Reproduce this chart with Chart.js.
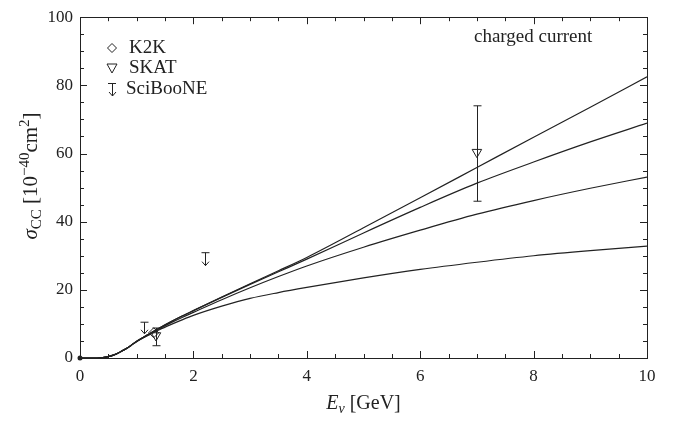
<!DOCTYPE html>
<html>
<head>
<meta charset="utf-8">
<script src="https://cdn.jsdelivr.net/npm/chart.js@4.4.1/dist/chart.umd.min.js"></script>
<style>
  html, body { margin: 0; padding: 0; background: #fff; }
  #wrap { width: 683px; height: 424px; }
</style>
</head>
<body>
<div id="wrap"><canvas id="sigmaChart"></canvas></div>
<script>
// neutrino energy grid [GeV]
const energies = [0, 0.3, 0.4, 0.5, 0.6, 0.7, 0.8, 0.9, 1.0, 1.2, 1.4, 1.6, 1.8, 2.0, 2.5, 3, 3.5, 4, 5, 6, 7, 8, 9, 10];

// model cross sections [1e-40 cm^2]
const curveA = [0, 0, 0.1, 0.4, 0.9, 1.7, 2.6, 3.7, 4.9, 6.9, 8.8, 10.6, 12.3, 13.9, 17.9, 21.8, 25.6, 29.5, 38.2, 47.0, 55.9, 64.8, 73.6, 82.5];
const curveB = [0, 0, 0.1, 0.4, 0.9, 1.7, 2.6, 3.7, 4.9, 6.9, 8.8, 10.6, 12.3, 13.9, 17.8, 21.6, 25.3, 29.0, 36.7, 44.2, 51.3, 57.5, 63.4, 68.9];
const curveC = [0, 0, 0.1, 0.4, 0.9, 1.7, 2.6, 3.7, 4.9, 6.8, 8.6, 10.3, 11.9, 13.4, 17.1, 20.6, 23.9, 27.0, 32.5, 37.5, 42.2, 46.2, 49.8, 53.1];
const curveD = [0, 0, 0.1, 0.4, 0.9, 1.7, 2.6, 3.7, 4.8, 6.6, 8.3, 9.8, 11.2, 12.5, 15.2, 17.5, 19.2, 20.7, 23.5, 26.0, 28.1, 30.0, 31.5, 32.8];

// measurements
const k2kE = [1.3];
const k2kSigma = [7.4];

const skatE = [1.34, 7.0];
const skatSigma = [6.6, 60.4];
const skatLow = [3.6, 46.0];
const skatHigh = [8.8, 74.0];

const sciE = [1.12, 2.2];
const sciSigma = [7.1, 27.1];
const sciHigh = [10.5, 30.9];

const xTicks = [0, 2, 4, 6, 8, 10];
const yTicks = [0, 20, 40, 60, 80, 100];

const INK = '#222';
const SERIF = '"Liberation Serif", "DejaVu Serif", serif';

function pts(xs, ys) {
  return xs.map((x, i) => ({ x: x, y: ys[i] }));
}

function curve(vals) {
  return {
    type: 'line',
    data: pts(energies, vals),
    borderColor: INK,
    borderWidth: 1.2,
    pointRadius: 0,
    fill: false,
    cubicInterpolationMode: 'monotone'
  };
}

// frame, inward ticks, error bars, SciBooNE arrows, legend and axis titles
const decorations = {
  id: 'decorations',
  beforeDatasetsDraw(chart) {
    const ctx = chart.ctx;
    const ys = chart.scales.y;
    ctx.save();
    ctx.strokeStyle = INK;
    ctx.lineWidth = 1;
    // SKAT error bars
    const meta = chart.getDatasetMeta(5);
    meta.data.forEach((el, i) => {
      const x = Math.round(el.x) + 0.5;
      const top = ys.getPixelForValue(skatHigh[i]);
      const bot = ys.getPixelForValue(skatLow[i]);
      ctx.beginPath();
      ctx.moveTo(x, top); ctx.lineTo(x, bot);
      ctx.moveTo(x - 4, top); ctx.lineTo(x + 4, top);
      ctx.moveTo(x - 4, bot); ctx.lineTo(x + 4, bot);
      ctx.stroke();
    });
    ctx.restore();
  },
  afterDatasetsDraw(chart) {
    const ctx = chart.ctx;
    const ys = chart.scales.y;
    ctx.save();
    ctx.strokeStyle = INK;
    ctx.lineWidth = 1;
    // SciBooNE: cap on the upper bound, arrow down to the value
    const meta = chart.getDatasetMeta(6);
    meta.data.forEach((el, i) => {
      const x = Math.round(el.x) + 0.5;
      const tip = el.y;
      const top = ys.getPixelForValue(sciHigh[i]);
      ctx.beginPath();
      ctx.moveTo(x - 4, top); ctx.lineTo(x + 4, top);
      ctx.moveTo(x, top); ctx.lineTo(x, tip);
      ctx.moveTo(x - 3.5, tip - 4); ctx.lineTo(x, tip); ctx.lineTo(x + 3.5, tip - 4);
      ctx.stroke();
    });
    ctx.restore();
  },
  afterDraw(chart) {
    const ctx = chart.ctx;
    const a = chart.chartArea;
    const xs = chart.scales.x, ys = chart.scales.y;
    ctx.save();
    ctx.strokeStyle = INK;
    ctx.lineWidth = 1;
    ctx.strokeRect(Math.round(a.left) + 0.5, Math.round(a.top) + 0.5,
      Math.round(a.right - a.left), Math.round(a.bottom - a.top));

    // inward ticks on all four sides
    ctx.beginPath();
    for (let v = 0; v <= 10.001; v += 0.5) {
      const x = Math.round(xs.getPixelForValue(v)) + 0.5;
      const len = Math.abs(v % 2) < 1e-6 ? 7 : 4;
      ctx.moveTo(x, a.bottom); ctx.lineTo(x, a.bottom - len);
      ctx.moveTo(x, a.top); ctx.lineTo(x, a.top + len);
    }
    for (let v = 0; v <= 100.001; v += 5) {
      const y = Math.round(ys.getPixelForValue(v)) + 0.5;
      const len = v % 20 === 0 ? 7 : 4;
      ctx.moveTo(a.left, y); ctx.lineTo(a.left + len, y);
      ctx.moveTo(a.right, y); ctx.lineTo(a.right - len, y);
    }
    ctx.stroke();

    // origin dot
    ctx.fillStyle = INK;
    ctx.beginPath();
    ctx.arc(xs.getPixelForValue(0), ys.getPixelForValue(0), 2.5, 0, Math.PI * 2);
    ctx.fill();

    // legend
    const lx = 112;
    ctx.lineWidth = 1;
    ctx.beginPath();
    ctx.moveTo(lx, 43.5); ctx.lineTo(lx + 4.5, 48); ctx.lineTo(lx, 52.5); ctx.lineTo(lx - 4.5, 48); ctx.closePath();
    ctx.stroke();
    ctx.beginPath();
    ctx.moveTo(lx - 5, 64); ctx.lineTo(lx + 5, 64); ctx.lineTo(lx, 73); ctx.closePath();
    ctx.stroke();
    ctx.beginPath();
    ctx.moveTo(lx - 4, 83.5); ctx.lineTo(lx + 4, 83.5);
    ctx.moveTo(lx + 0.5, 83.5); ctx.lineTo(lx + 0.5, 96);
    ctx.moveTo(lx - 3, 92); ctx.lineTo(lx + 0.5, 96); ctx.lineTo(lx + 4, 92);
    ctx.stroke();

    ctx.fillStyle = INK;
    ctx.font = '19px ' + SERIF;
    ctx.textBaseline = 'middle';
    ctx.textAlign = 'left';
    ctx.fillText('K2K', 129, 48);
    ctx.fillText('SKAT', 129, 68);
    ctx.fillText('SciBooNE', 126, 89);
    ctx.fillText('charged current', 474, 37);

    // x title: E_nu [GeV]
    ctx.textBaseline = 'alphabetic';
    const parts = [
      { t: 'E', f: 'italic 20px ' + SERIF, dy: 0 },
      { t: 'ν', f: 'italic 14px ' + SERIF, dy: 4 },
      { t: ' [GeV]', f: '20px ' + SERIF, dy: 0 }
    ];
    drawRun(ctx, parts, (a.left + a.right) / 2, 409);

    // y title: sigma_CC [10^-40 cm^2], rotated
    ctx.translate(30, 176);
    ctx.rotate(-Math.PI / 2);
    const yparts = [
      { t: 'σ', f: 'italic 21px ' + SERIF, dy: 0 },
      { t: 'CC', f: '15px ' + SERIF, dy: 4 },
      { t: ' [10', f: '21px ' + SERIF, dy: 0 },
      { t: '−40', f: '15px ' + SERIF, dy: -8 },
      { t: 'cm', f: '21px ' + SERIF, dy: 0 },
      { t: '2', f: '15px ' + SERIF, dy: -8 },
      { t: ']', f: '21px ' + SERIF, dy: 0 }
    ];
    drawRun(ctx, yparts, 0, 7);
    ctx.restore();
  }
};

// draws a run of text pieces centred on cx
function drawRun(ctx, parts, cx, baseline) {
  let total = 0;
  parts.forEach(p => { ctx.font = p.f; p.w = ctx.measureText(p.t).width; total += p.w; });
  let x = cx - total / 2;
  ctx.textAlign = 'left';
  parts.forEach(p => {
    ctx.font = p.f;
    ctx.fillText(p.t, x, baseline + p.dy);
    x += p.w;
  });
}

const ctx = document.getElementById('sigmaChart').getContext('2d');
new Chart(ctx, {
  type: 'scatter',
  data: {
    datasets: [
      curve(curveA),
      curve(curveB),
      curve(curveC),
      curve(curveD),
      {
        label: 'K2K',
        data: pts(k2kE, k2kSigma),
        pointStyle: 'rectRot',
        pointRadius: 5,
        borderColor: INK,
        borderWidth: 1,
        backgroundColor: 'rgba(0,0,0,0)'
      },
      {
        label: 'SKAT',
        data: pts(skatE, skatSigma),
        pointStyle: 'triangle',
        rotation: 180,
        pointRadius: 5.5,
        borderColor: INK,
        borderWidth: 1,
        backgroundColor: 'rgba(0,0,0,0)'
      },
      {
        label: 'SciBooNE',
        data: pts(sciE, sciSigma),
        pointRadius: 0
      }
    ]
  },
  options: {
    responsive: true,
    maintainAspectRatio: false,
    animation: false,
    layout: { padding: { left: 0, top: 8, right: 36, bottom: 0 } },
    plugins: {
      legend: { display: false },
      tooltip: { enabled: false }
    },
    scales: {
      x: {
        type: 'linear',
        min: 0,
        max: 10,
        grid: { display: false, drawTicks: false },
        border: { display: false },
        afterBuildTicks: s => { s.ticks = xTicks.map(v => ({ value: v })); },
        afterFit: s => { s.height = 66; },
        ticks: {
          color: INK,
          padding: 8,
          maxRotation: 0,
          font: { family: SERIF, size: 17 }
        }
      },
      y: {
        type: 'linear',
        min: 0,
        max: 100,
        grid: { display: false, drawTicks: false },
        border: { display: false },
        afterBuildTicks: s => { s.ticks = yTicks.map(v => ({ value: v })); },
        afterFit: s => { s.width = 80; },
        ticks: {
          color: INK,
          padding: 7,
          font: { family: SERIF, size: 17 }
        }
      }
    }
  },
  plugins: [decorations]
});
</script>
</body>
</html>
